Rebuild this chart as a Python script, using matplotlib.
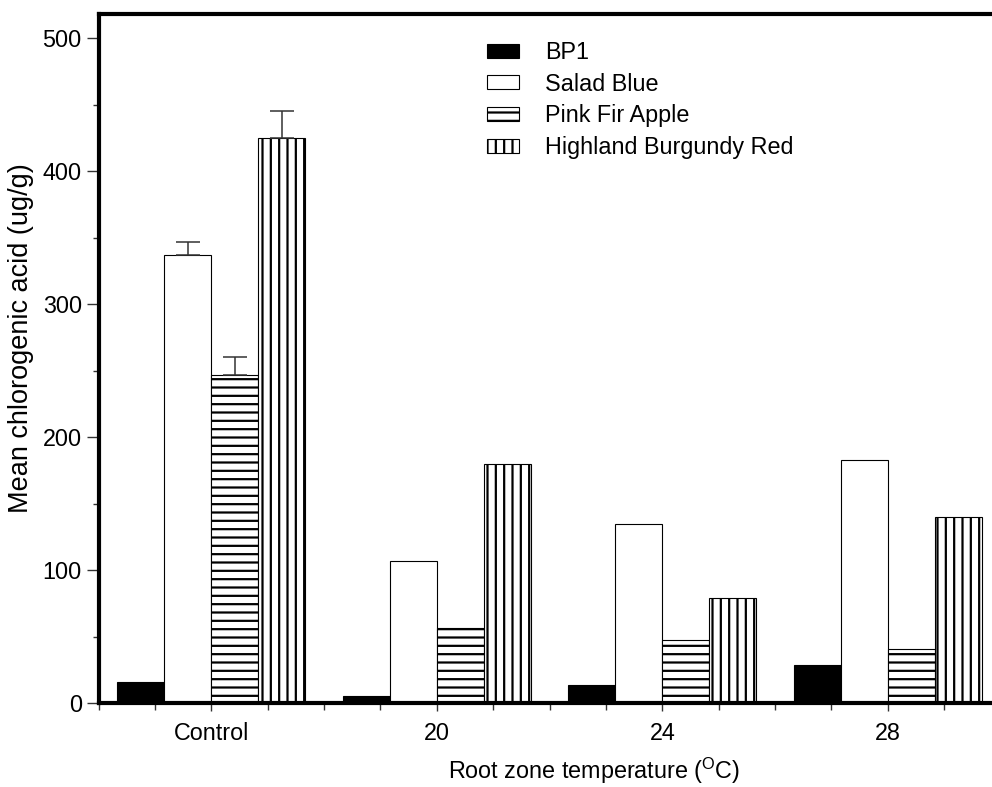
import numpy as np
import matplotlib.pyplot as plt

plt.rcParams["font.family"] = ["Liberation Sans", "DejaVu Sans"]
plt.rcParams["mathtext.default"] = "regular"
plt.rcParams["hatch.linewidth"] = 1.6

# values
groups = ["Control", "20", "24", "28"]
cultivars = ["BP1", "Salad Blue", "Pink Fir Apple", "Highland Burgundy Red"]
bp1 = [16, 6, 14, 29]
salad_blue = [337, 107, 135, 183]
pink_fir = [247, 57, 48, 41]
highland = [425, 180, 79, 140]

# upper error bars (only the control ones show)
bp1_err = [0, 0, 0, 0]
salad_blue_err = [9.5, 0, 0, 0]
pink_fir_err = [13.5, 0, 0, 0]
highland_err = [20, 0, 0, 0]

series = [bp1, salad_blue, pink_fir, highland]
errors = [bp1_err, salad_blue_err, pink_fir_err, highland_err]
fills = ["black", "white", "white", "white"]
hatches = [None, None, "--", "||"]

fig = plt.figure(figsize=(9.92, 7.87), dpi=100)
ax = fig.add_axes([0.0993, 0.1061, 0.9093, 0.8761])

x = np.arange(len(groups))
w = 0.208

for i, vals in enumerate(series):
    pos = x + (i - 1.5) * w
    ax.bar(pos, vals, width=w, color=fills[i], edgecolor="black",
           linewidth=0.8, hatch=hatches[i], label=cultivars[i], zorder=1)
    err = np.array(errors[i], dtype=float)
    keep = err > 0
    if keep.any():
        ax.errorbar(pos[keep], np.array(vals)[keep],
                    yerr=[np.zeros(keep.sum()), err[keep]],
                    fmt="none", ecolor="#333333", elinewidth=1.1,
                    capsize=8.5, capthick=1.1, zorder=2)

ax.set_xlim(-0.5, 3.5)
ax.set_ylim(0, 518)

ax.set_xticks(x)
ax.set_xticklabels(groups)
ax.set_xticks(np.arange(-0.5, 3.51, 0.25), minor=True)
ax.set_yticks(np.arange(0, 501, 100))
ax.set_yticks(np.arange(0, 501, 50), minor=True)

ax.tick_params(axis="both", which="both", direction="out", color="#333333",
               width=1, labelsize=16.8)
ax.tick_params(axis="y", which="major", length=9, pad=3)
ax.tick_params(axis="y", which="minor", length=4.5)
ax.tick_params(axis="x", which="major", length=6, pad=7)
ax.tick_params(axis="x", which="minor", length=5)

for side in ["left", "bottom", "top"]:
    ax.spines[side].set_linewidth(3)
ax.spines["right"].set_visible(False)

# the original plot was cropped on the right, so the titles sit off-centre
ax.set_ylabel("Mean chlorogenic acid (ug/g)", fontsize=19.5, labelpad=6, y=0.53)
ax.set_xlabel("Root zone temperature ($^{O}$C)", fontsize=16.8, labelpad=8,
              x=0.549)

ax.legend(loc="upper left", bbox_to_anchor=(0.491, 0.948),
          bbox_transform=fig.transFigure, frameon=False, fontsize=16.8,
          borderpad=0, borderaxespad=0, handlelength=1.37, handleheight=0.55,
          handletextpad=1.1, labelspacing=0.37)

fig.savefig("out.png", dpi=100)
